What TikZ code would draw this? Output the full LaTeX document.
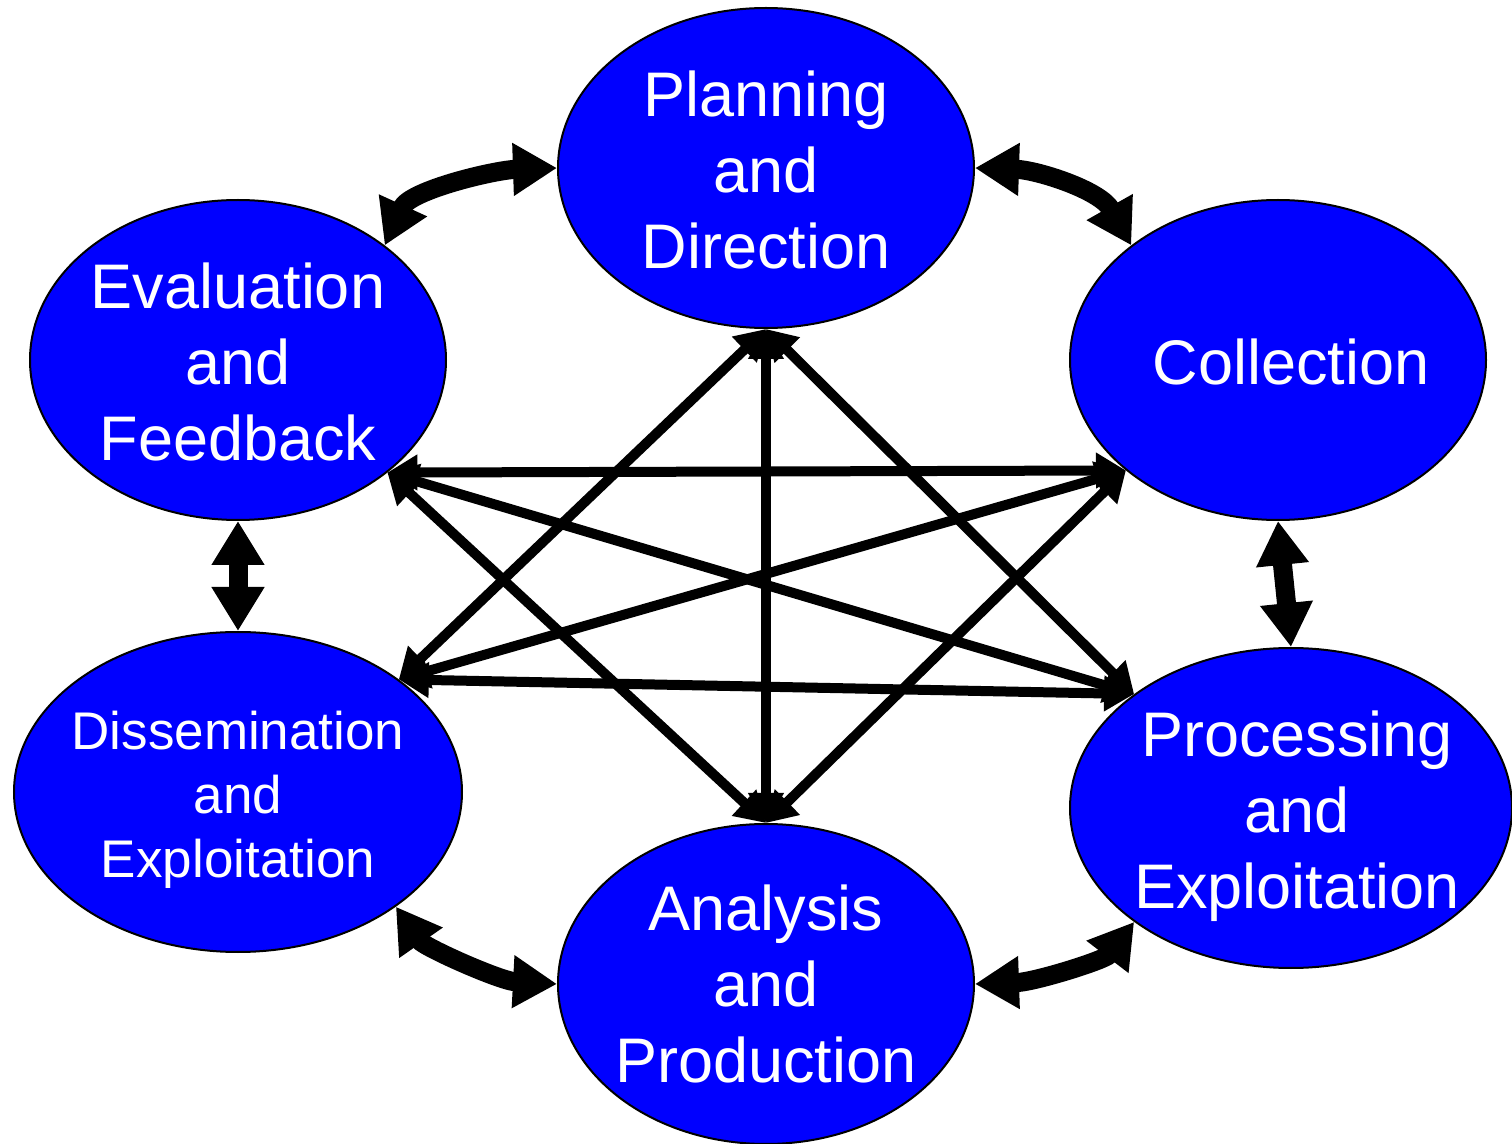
\documentclass[tikz,border=0pt]{standalone}
\usepackage{fontspec}
\setmainfont{Liberation Sans}
\usetikzlibrary{shapes.geometric,arrows.meta}

\tikzset{
  phase/.style={ellipse, draw=black, line width=1pt, fill=blue, inner sep=0pt,
    minimum width=208pt, minimum height=160pt},
  label/.style={text=white, align=center, inner sep=0pt,
    font=\fontsize{31.5}{38}\selectfont},
  smalllabel/.style={text=white, align=center, inner sep=0pt,
    font=\fontsize{26.5}{32}\selectfont},
  link/.style={line width=5pt,
    {Triangle[length=15pt,width=17pt]}-{Triangle[length=15pt,width=17pt]}},
  cycle/.style={line width=9.5pt,
    {Triangle[length=22pt,width=25pt]}-{Triangle[length=22pt,width=25pt]}}
}

\begin{document}
\begin{tikzpicture}[x=0.5pt,y=-0.5pt]
\useasboundingbox (0,0) rectangle (1512,1144);

% the six phases of the cycle
\node[phase] (pd) at (766,168) {};
\node[phase] (co) at (1278,360) {};
\node[phase, minimum width=221pt] (pr) at (1291,808) {};
\node[phase] (an) at (766,984) {};
\node[phase, minimum width=224pt] (di) at (238,792) {};
\node[phase] (ev) at (238,360) {};

\node[label] (tpd) at (766,170) {Planning\\and\\Direction};
\node[label] (tco) at (1291,362) {Collection};
\node[label] (tpr) at (1297,816) {Processing\\and\\Exploitation};
\node[label] (tan) at (766,984) {Analysis\\and\\Production};
\node[smalllabel] (tdi) at (238,800) {Dissemination\\and\\Exploitation};
\node[label] (tev) at (238,362) {Evaluation\\and\\Feedback};

% cross links between non-adjacent phases
\draw[link] (pd.south) -- (an.north);
\draw[link] (pd.south) -- (di.35);
\draw[link] (pd.south) -- (pr.144);
\draw[link] (ev.-37) -- (co.216);
\draw[link] (ev.-37) -- (pr.144);
\draw[link] (ev.-37) -- (an.north);
\draw[link] (co.216) -- (di.35);
\draw[link] (co.216) -- (an.north);
\draw[link] (di.35) -- (pr.144);

% links around the cycle
\draw[cycle] (ev.38) .. controls (410,190) and (495,170) .. (pd.west);
\draw[cycle] (pd.east) .. controls (1037,170) and (1100,190) .. (co.142);
\draw[cycle] (co.south) -- (pr.north);
\draw[cycle] (ev.south) -- (di.north);
\draw[cycle] (di.-36) .. controls (424,947) and (500,981) .. (an.west);
\draw[cycle] (an.east) .. controls (1035,982) and (1105,960) .. (pr.216);
\end{tikzpicture}
\end{document}
